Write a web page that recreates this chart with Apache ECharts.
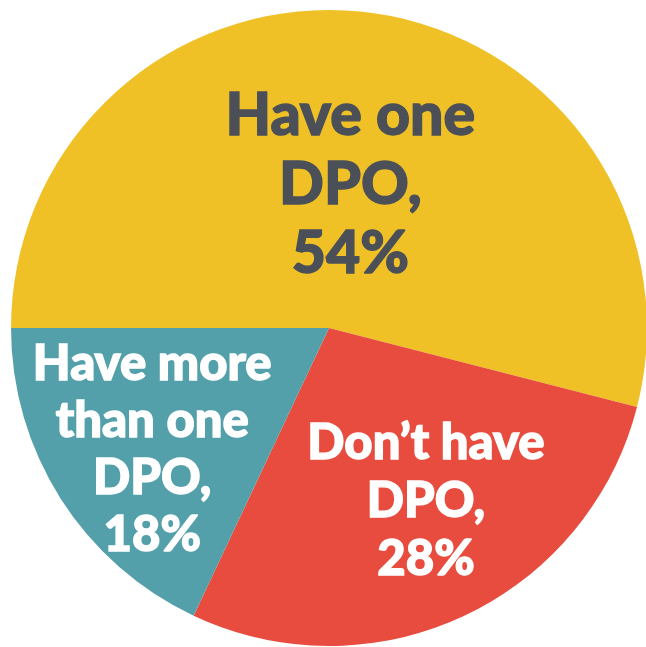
<!DOCTYPE html>
<html>
<head>
<meta charset="utf-8">
<script src="https://cdn.jsdelivr.net/npm/echarts@6/dist/echarts.min.js"></script>
<style>
  html, body { margin: 0; padding: 0; background: #ffffff; }
  #chart { width: 646px; height: 647px; }
</style>
</head>
<body>
<div id="chart"></div>
<script>
// Share of organisations by number of Data Protection Officers
const categories = ['Have one\nDPO,', 'Don\u2019t have\nDPO,', 'Have more\nthan one\nDPO,'];
const shares = [54, 28, 18];

const sliceColors = ['#efc127', '#e74c3e', '#53a0aa'];
const labelColors = ['#4b5058', '#ffffff', '#ffffff'];
const labelSizes = [59, 49, 49];
const labelLineHeights = [69, 58, 57];
// nudges from the default inside-label anchor
const labelShift = [[1, 18], [28, 27], [-40, 35]];

const chart = echarts.init(document.getElementById('chart'), null, { renderer: 'canvas' });

chart.setOption({
  animation: false,
  series: [{
    type: 'pie',
    center: [329, 328],
    radius: [0, 318],
    startAngle: 180,
    clockwise: true,
    avoidLabelOverlap: false,
    itemStyle: { borderWidth: 0 },
    emphasis: { disabled: true },
    label: {
      show: true,
      position: 'inside',
      fontFamily: 'Lato',
      fontWeight: 900,
      align: 'center',
      verticalAlign: 'middle',
      textBorderWidth: 1.4,
      formatter: p => p.name + '\n' + p.value + '%'
    },
    labelLine: { show: false },
    labelLayout: params => ({
      dx: labelShift[params.dataIndex][0],
      dy: labelShift[params.dataIndex][1]
    }),
    data: categories.map((name, i) => ({
      name: name,
      value: shares[i],
      itemStyle: { color: sliceColors[i] },
      label: {
        color: labelColors[i],
        textBorderColor: labelColors[i],
        fontSize: labelSizes[i],
        lineHeight: labelLineHeights[i]
      }
    }))
  }]
});
</script>
</body>
</html>
